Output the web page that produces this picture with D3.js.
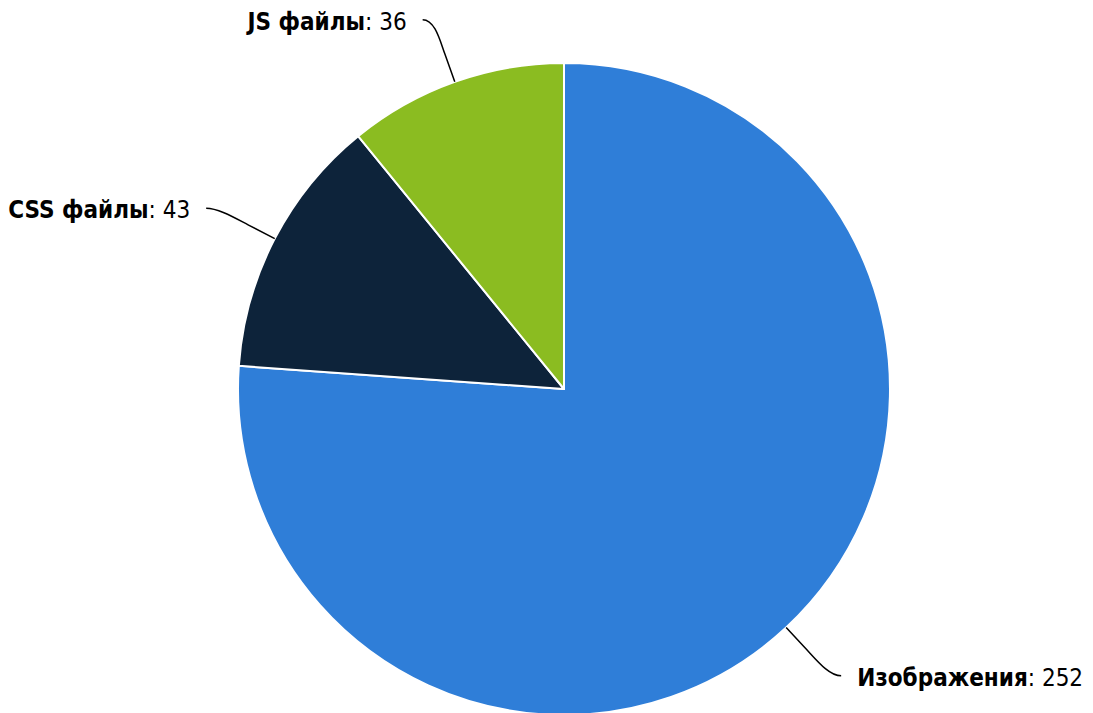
<!DOCTYPE html>
<html><head><meta charset="utf-8">
<script src="https://cdn.jsdelivr.net/npm/d3@7"></script>
<style>html,body{margin:0;padding:0;background:#fff;} svg{display:block;}</style>
</head><body>
<script>
const categories = ["Изображения", "CSS файлы", "JS файлы"];
const values = [252, 43, 36];
const colors = ["#2f7ed8", "#0d233a", "#8bbc21"];

const W = 1093, H = 713;
const cx = 564, cy = 389, r = 326, labelR = 392;
const svg = d3.select("body").append("svg").attr("width", W).attr("height", H);
const g = svg.append("g").attr("transform", `translate(${cx},${cy})`);

const data = categories.map((c, i) => ({name: c, value: values[i], color: colors[i]}));
const pie = d3.pie().value(d => d.value).sort(null);
const arc = d3.arc().innerRadius(0).outerRadius(r);
const arcs = pie(data);

g.selectAll("path.slice").data(arcs).join("path")
  .attr("class", "slice")
  .attr("d", arc)
  .attr("fill", d => d.data.color)
  .attr("stroke", "#fff").attr("stroke-width", 2).attr("stroke-linejoin", "round");

const pt = (a, rad) => [Math.sin(a) * rad, -Math.cos(a) * rad];

arcs.forEach(d => {
  const mid = (d.startAngle + d.endAngle) / 2;
  const side = Math.sin(mid) < 0 ? -1 : 1;
  const base = pt(mid, labelR);
  const anchor = [base[0] + side * 10, base[1]];
  const edge = pt(mid, r);
  const b1 = pt(mid, r + 45);
  const b2 = pt(mid, r + 30);
  const path = `M${anchor[0]},${anchor[1]} C${anchor[0] - side * 12},${anchor[1]} ${b1[0]},${b1[1]} ${b2[0]},${b2[1]} L${edge[0]},${edge[1]}`;
  g.append("path").attr("d", path).attr("fill", "none").attr("stroke", "#000").attr("stroke-width", 1.5);
  const t = g.append("text")
    .attr("x", anchor[0] + side * 16)
    .attr("y", anchor[1] + 10)
    .attr("text-anchor", side < 0 ? "end" : "start")
    .attr("font-family", "'DejaVu Sans Condensed', 'DejaVu Sans', sans-serif")
    .attr("font-size", 24).attr("fill", "#000");
  t.append("tspan").attr("font-weight", "bold").text(d.data.name);
  t.append("tspan").text(": " + d.data.value);
});
</script>
</body></html>
